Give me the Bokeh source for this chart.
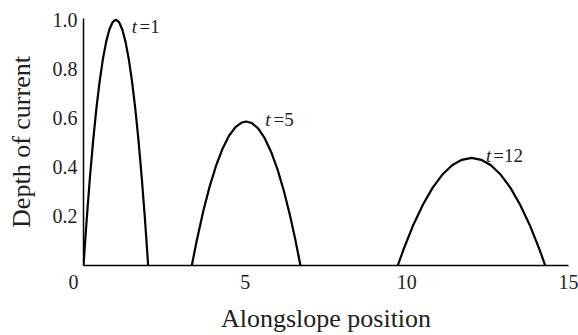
from bokeh.plotting import figure
from bokeh.models import FixedTicker, NumeralTickFormatter, ColumnDataSource
from bokeh.core.properties import value
from bokeh.embed import file_html
from bokeh.resources import INLINE

# ---- data ----
x_t1 = [0.0, 0.1, 0.2, 0.3, 0.4, 0.5, 0.6, 0.7, 0.8, 0.9, 1.0,
        1.1, 1.2, 1.3, 1.4, 1.5, 1.6, 1.7, 1.8, 1.9, 2.0]
h_t1 = [0.0, 0.19, 0.36, 0.51, 0.64, 0.75, 0.84, 0.91, 0.96, 0.99, 1.0,
        0.99, 0.96, 0.91, 0.84, 0.75, 0.64, 0.51, 0.36, 0.19, 0.0]

x_t5 = [3.35, 3.5, 3.7, 3.9, 4.1, 4.3, 4.5, 4.7, 4.9, 5.03,
        5.2, 5.4, 5.6, 5.8, 6.0, 6.2, 6.4, 6.55, 6.71]
h_t5 = [0.0, 0.100, 0.219, 0.321, 0.406, 0.475, 0.528, 0.563, 0.582, 0.586,
        0.580, 0.558, 0.519, 0.463, 0.391, 0.302, 0.196, 0.106, 0.0]

x_t12 = [9.72, 9.9, 10.2, 10.5, 10.8, 11.1, 11.4, 11.7, 12.0,
         12.3, 12.6, 12.9, 13.2, 13.5, 13.8, 14.1, 14.28]
h_t12 = [0.0, 0.066, 0.165, 0.248, 0.317, 0.370, 0.408, 0.430, 0.438,
         0.430, 0.408, 0.370, 0.317, 0.248, 0.165, 0.066, 0.0]

curve_labels = ["=1", "=5", "=12"]
x_ticks = [0, 5, 10, 15]
x_tick_labels = ["0", "5", "10", "15"]
y_ticks = [0.2, 0.4, 0.6, 0.8, 1.0]

FONT = "Liberation Serif"
INK = "#231f20"

p = figure(width=578, height=335, x_range=(0, 15), y_range=(0, 1.005),
           output_backend="svg", toolbar_location=None,
           min_border_left=83, min_border_right=10,
           min_border_top=18, min_border_bottom=67)
p.outline_line_color = None
p.grid.visible = False
p.background_fill_color = "white"
p.border_fill_color = "white"

for ax in (p.xaxis[0], p.yaxis[0]):
    ax.axis_line_color = "black"
    ax.axis_line_width = 1.5
    ax.major_tick_line_color = None
    ax.minor_tick_line_color = None
    ax.major_tick_out = 0
    ax.major_tick_in = 0
    ax.minor_tick_out = 0
    ax.minor_tick_in = 0
    ax.major_label_text_font = FONT
    ax.major_label_text_font_style = "normal"
    ax.major_label_text_font_size = "20px"
    ax.major_label_text_color = INK
    ax.axis_label_text_font = FONT
    ax.axis_label_text_font_size = "26px"
    ax.axis_label_text_font_style = "normal"
    ax.axis_label_text_color = INK

p.xaxis.ticker = FixedTicker(ticks=x_ticks)
# the origin "0" sits left of the corner in the reference: pad it on the right
overrides = {t: s for t, s in zip(x_ticks, x_tick_labels)}
overrides[x_ticks[0]] = x_tick_labels[0] + "\u00a0" * 4
p.xaxis.major_label_overrides = overrides
p.xaxis.major_label_standoff = 5
p.xaxis.axis_label = "Alongslope position"
p.xaxis.axis_label_standoff = 8

p.yaxis.ticker = FixedTicker(ticks=y_ticks)
p.yaxis.formatter = NumeralTickFormatter(format="0.0")
p.yaxis.major_label_standoff = 6
p.yaxis.axis_label = "Depth of current"
p.yaxis.axis_label_standoff = 14

curves = [(x_t1, h_t1), (x_t5, h_t5), (x_t12, h_t12)]
for xs, hs in curves:
    p.line(xs, hs, line_color="black", line_width=2.2, line_join="round")

# label anchors = peak of each curve
peak_x, peak_h = [], []
for xs, hs in curves:
    i = hs.index(max(hs))
    peak_x.append(xs[i])
    peak_h.append(hs[i])

src = ColumnDataSource(dict(
    x=peak_x, y=peak_h,
    t=["t"] * len(peak_x), eq=curve_labels,
    dx_t=[16, 19, 14.5], dx_eq=[23.7, 27.4, 21.8], dy=[7, -1.7, -2.4],
))
p.text(x="x", y="y", text="t", x_offset="dx_t", y_offset="dy", source=src,
       text_font=value(FONT), text_font_style="italic", text_font_size="19px",
       text_color=INK, text_align="left", text_baseline="alphabetic")
p.text(x="x", y="y", text="eq", x_offset="dx_eq", y_offset="dy", source=src,
       text_font=value(FONT), text_font_size="19px",
       text_color=INK, text_align="left", text_baseline="alphabetic")

open("out.html", "w").write(file_html(p, INLINE))
